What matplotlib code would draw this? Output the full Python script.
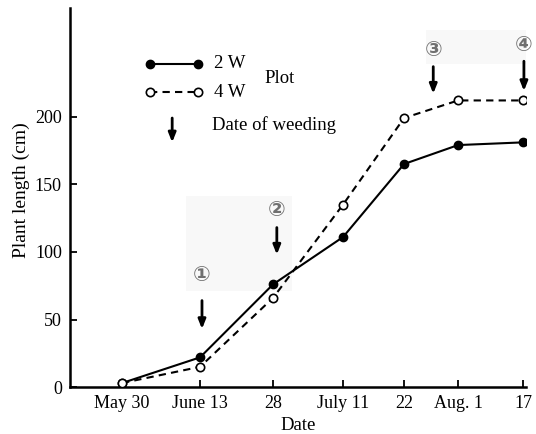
import matplotlib
matplotlib.use("Agg")
import numpy as np
import matplotlib.pyplot as plt
from matplotlib.patches import Rectangle

plt.rcParams['font.family'] = ['Liberation Serif', 'DejaVu Serif']

# data (x = days after May 30)
days = [0, 14, 29, 42, 53, 63, 79]
tick_labels = ["May 30", "June 13", "28", "July 11", "22", "Aug. 1", "17"]
len_2w = [3, 22, 76, 111, 165, 179, 181]
len_4w = [3, 15, 66, 135, 199, 212, 212]

# weeding dates (days after May 30) and their circled numbers
weed_marks = ["\u2460", "\u2461", "\u2462", "\u2463"]
weed_days = [14.4, 29.7, 58.4, 79.2]
weed_label_y = [83, 131, 249, 253]
weed_top = [64, 118, 237, 241]
weed_bottom = [43, 98, 217, 219]

# the printed date axis is not evenly spaced: piecewise scale through the ticks
axis_pos = [122, 200, 273, 343, 404, 458, 523]
ext_days = [-30] + days + [110]
ext_pos = [axis_pos[0] - 30 * 5.57] + axis_pos + [axis_pos[-1] + 31 * 4.06]


def fwd(x):
    return np.interp(x, ext_days, ext_pos)


def inv(p):
    return np.interp(p, ext_pos, ext_days)


fig = plt.figure(figsize=(5.36, 4.34), dpi=100)
ax = fig.add_axes([0.131, 0.108, 0.851, 0.874])
ax.set_xscale('function', functions=(fwd, inv))
ax.set_xlim(-9.3, 79.8)
ax.set_ylim(0, 280.5)

# faint grey scan patches behind the circled numbers
ax.add_patch(Rectangle((11.5, 71), 21, 70, color='#f8f8f8', lw=0, zorder=0))
ax.add_patch(Rectangle((57, 239), 23, 25, color='#f8f8f8', lw=0, zorder=0))

ax.plot(days, len_2w, color='black', lw=1.5, marker='o', ms=6,
        mfc='black', mec='black', zorder=3)
ax.plot(days, len_4w, color='black', lw=1.5, ls=(0, (3.5, 2.5)), marker='o',
        ms=6, mfc='white', mec='black', mew=1.2, zorder=3)

arrow_kw = dict(arrowstyle='-|>,head_width=0.22,head_length=0.55',
                color='black', lw=2.0, shrinkA=0, shrinkB=0)
for lab, d, ly, yt, yb in zip(weed_marks, weed_days, weed_label_y, weed_top, weed_bottom):
    ax.annotate("", xy=(d, yb), xytext=(d, yt), arrowprops=arrow_kw)
    ax.text(d, ly, lab, ha='center', va='center', fontsize=15, color='#707070',
            family=['DejaVu Sans'], fontweight='bold')

# hand-drawn legend
ax.plot([5, 13.6], [239, 239], color='black', lw=1.5, marker='o', ms=6, mfc='black')
ax.plot([5, 13.6], [218, 218], color='black', lw=1.5, ls=(0, (3.5, 2.5)), marker='o',
        ms=6, mfc='white', mew=1.2)
ax.text(16.9, 239, "2 W", va='center', fontsize=13.5)
ax.text(16.9, 218, "4 W", va='center', fontsize=13.5)
ax.text(27.3, 228, "Plot", va='center', fontsize=13.5)
ax.annotate("", xy=(9, 181), xytext=(9, 199), arrowprops=arrow_kw)
ax.text(16.5, 194, "Date of weeding", va='center', fontsize=13.5)

ax.set_xticks(days)
ax.set_xticklabels(tick_labels, fontsize=13)
ax.set_yticks([0, 50, 100, 150, 200])
ax.tick_params(axis='y', labelsize=13, direction='in', length=5, width=1.3, pad=6)
ax.tick_params(axis='x', direction='in', length=5, width=1.3, pad=6)
ax.minorticks_off()
for s in ['top', 'right']:
    ax.spines[s].set_visible(False)
for s in ['left', 'bottom']:
    ax.spines[s].set_linewidth(1.8)

ax.set_xlabel("Date", fontsize=13.5, labelpad=3)
ax.set_ylabel("Plant length (cm)", fontsize=14)
ax.yaxis.set_label_coords(-0.088, 0.52)

fig.savefig("out.png", dpi=100)
